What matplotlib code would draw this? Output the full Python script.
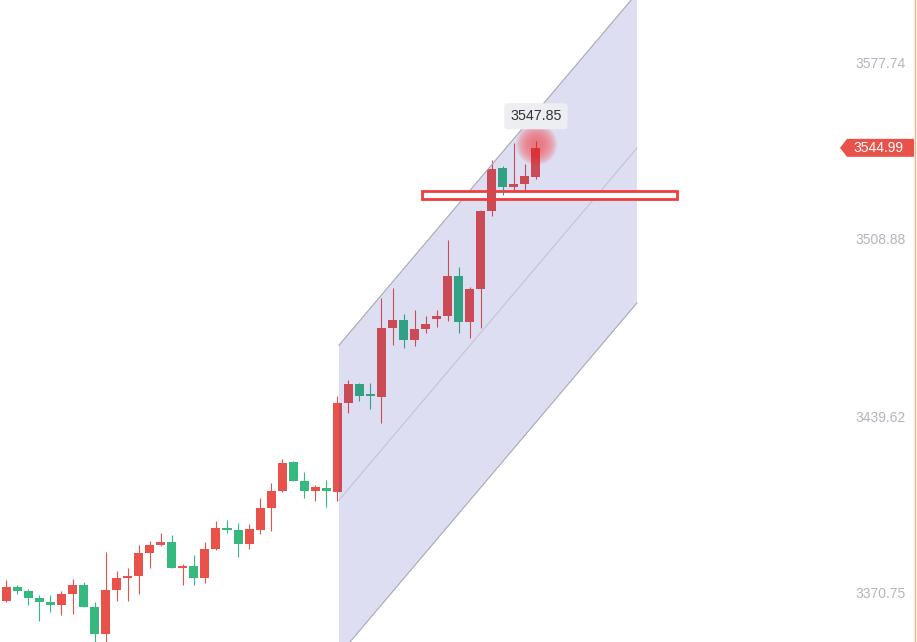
import matplotlib.pyplot as plt
import matplotlib.colors as mcolors
import matplotlib.transforms as mtransforms
from matplotlib.patches import Rectangle, Polygon
import numpy as np

# daily candles (red = up, green = down)
opens = [3367.97, 3373.44, 3371.88, 3369.15, 3367.58, 3366.41, 3370.71, 3374.22, 3365.63, 3355.08,
         3372.27, 3376.96, 3377.74, 3386.73, 3389.85, 3391.02, 3380.86, 3381.65, 3376.96, 3388.29,
         3396.49, 3395.71, 3390.24, 3395.71, 3404.30, 3410.94, 3422.27, 3414.85, 3410.94, 3412.12,
         3410.55, 3445.32, 3452.74, 3448.83, 3447.66, 3474.61, 3477.74, 3469.93, 3474.22, 3478.13,
         3479.30, 3494.93, 3476.96, 3489.85, 3520.32, 3537.11, 3529.69, 3530.86, 3533.60]
highs = [3376.18, 3374.22, 3372.66, 3370.32, 3370.32, 3371.88, 3376.57, 3375.40, 3367.58, 3387.12,
         3379.69, 3380.86, 3389.85, 3391.41, 3394.54, 3393.76, 3382.43, 3385.94, 3391.02, 3399.22,
         3399.61, 3398.44, 3398.05, 3408.21, 3414.07, 3423.44, 3422.66, 3418.36, 3413.29, 3415.24,
         3448.05, 3454.30, 3453.13, 3453.13, 3486.33, 3490.24, 3480.08, 3481.65, 3479.30, 3481.65,
         3508.99, 3498.44, 3490.63, 3520.71, 3540.24, 3537.90, 3546.88, 3538.68, 3547.85]
lows = [3367.60, 3370.71, 3366.41, 3360.16, 3363.68, 3362.50, 3362.90, 3365.63, 3351.96, 3351.96,
        3367.97, 3367.97, 3370.71, 3380.86, 3389.46, 3380.86, 3374.22, 3374.22, 3375.01, 3387.90,
        3394.54, 3385.16, 3388.29, 3394.15, 3395.32, 3410.55, 3414.85, 3408.21, 3407.04, 3404.69,
        3407.04, 3441.41, 3446.10, 3442.97, 3437.51, 3467.97, 3466.80, 3467.58, 3472.66, 3475.01,
        3477.35, 3472.66, 3470.71, 3474.61, 3518.36, 3526.57, 3528.52, 3528.13, 3532.82]
closes = [3373.44, 3371.88, 3369.15, 3367.58, 3366.41, 3370.71, 3374.22, 3365.63, 3355.08, 3372.27,
          3376.96, 3377.74, 3386.73, 3389.85, 3391.02, 3380.86, 3381.65, 3376.96, 3388.29, 3396.49,
          3395.71, 3390.24, 3396.10, 3404.30, 3410.94, 3421.88, 3414.85, 3410.94, 3412.51, 3410.94,
          3445.32, 3452.74, 3448.05, 3448.05, 3474.61, 3477.74, 3469.93, 3474.22, 3476.18, 3479.30,
          3494.93, 3476.96, 3489.85, 3520.32, 3536.72, 3529.69, 3530.86, 3533.99, 3544.99]

y_ticks = [3577.74, 3508.88, 3439.62, 3370.75]
last_price = 3544.99
tip_price = 3547.85

# parallel channel: middle line end points and half width
chan_x = [30.15, 57.15]
chan_mid = [3407.4, 3544.9]
chan_half = 60.5

# highlighted zone
box_x = [37.67, 60.78]
box_y = [3525.0, 3528.13]

plt.rcParams['font.family'] = ['Liberation Sans', 'DejaVu Sans']

fig = plt.figure(figsize=(9.17, 6.42), dpi=100)
ax = fig.add_axes([0, 0, 1, 1])
ax.set_xlim(-0.571, 82.53)
ax.set_ylim(3351.96, 3602.74)
ax.set_axis_off()

up = '#e8524a'
down = '#35b97f'
shade = (0.08, 0.1, 0.63, 0.14)


def mix(c):
    rgb = np.array(mcolors.to_rgb(c))
    a = shade[3]
    return tuple(rgb * (1 - a) + np.array(shade[:3]) * a)


def draw_candles(cu, cd, z, clip=None):
    o = np.array(opens)
    c = np.array(closes)
    x = np.arange(len(o))
    cols = [cu if cc >= oo else cd for oo, cc in zip(o, c)]
    wicks = ax.vlines(x, lows, highs, colors=cols, lw=0.8, zorder=z)
    bars = ax.bar(x, np.maximum(np.abs(c - o), 0.6), bottom=np.minimum(o, c),
                  width=0.82, color=cols, lw=0, zorder=z)
    if clip is not None:
        wicks.set_clip_path(clip)
        for b in bars:
            b.set_clip_path(clip)


draw_candles(up, down, 2)

# channel
xs = np.array(chan_x)
mid = np.array(chan_mid)
ax.fill_between(xs, mid - chan_half, mid + chan_half, color=shade, lw=0, zorder=3)
ax.plot(xs, mid + chan_half, color='#a8a8b2', lw=0.8, zorder=3.5)
ax.plot(xs, mid, color='#c4c4d0', lw=0.8, zorder=3.5)
ax.plot(xs, mid - chan_half, color='#a8a8b2', lw=0.8, zorder=3.5)

rect = Rectangle((box_x[0], box_y[0]), box_x[1] - box_x[0], box_y[1] - box_y[0],
                 facecolor='white', edgecolor='#f23c3c', lw=2.0, zorder=4)
ax.add_patch(rect)
draw_candles(mix(up), mix(down), 5, clip=rect)

# soft glow on the last high
for s in np.linspace(900, 30, 16):
    ax.scatter(len(opens) - 1, tip_price - 1.5, s=s, color='#ff2020', alpha=0.045, lw=0, zorder=6)

ax.annotate(f'{tip_price:.2f}', xy=(len(opens) - 1, tip_price), xytext=(0, 17.5),
            textcoords='offset points', ha='center', va='center', fontsize=10.3, color='#333333',
            bbox=dict(boxstyle='round,pad=0.42,rounding_size=0.25', fc='#eceef1', ec='none'),
            zorder=7)

# right price scale
blend = mtransforms.blended_transform_factory(ax.transAxes, ax.transData)
for v in y_ticks:
    ax.text(0.988, v, f'{v:.2f}', transform=blend, ha='right', va='center',
            color='#b2b5be', fontsize=10)

yd = ax.transData.transform((0, last_price))[1]
tag = Polygon([(840, yd), (847, yd + 9), (914, yd + 9), (914, yd - 9), (847, yd - 9)],
              closed=True, fc='#e8524a', ec='none', transform=mtransforms.IdentityTransform(),
              zorder=8)
ax.add_patch(tag)
ax.text(0.985, last_price, f'{last_price:.2f}', transform=blend, ha='right', va='center',
        color='white', fontsize=10, zorder=9)

ax.plot([0.998, 0.998], [0, 1], transform=ax.transAxes, color='#f8b07c', lw=1, zorder=9)

plt.savefig('out.png', dpi=100)
